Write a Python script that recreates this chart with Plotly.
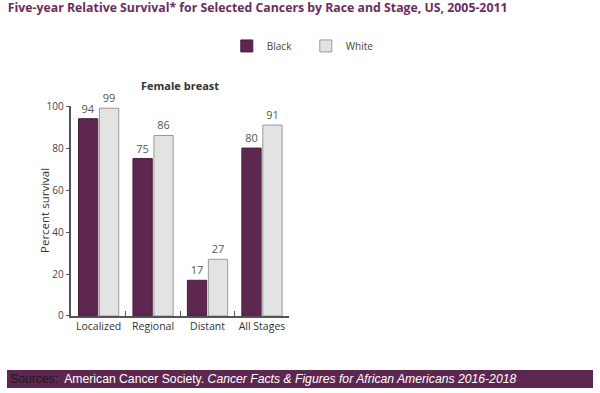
import plotly.graph_objects as go

stages = ["Localized", "Regional", "Distant", "All Stages"]
black_vals = [94, 75, 17, 80]
white_vals = [99, 86, 27, 91]
y_ticks = [0, 20, 40, 60, 80, 100]

title_text = "Five-year Relative Survival* for Selected Cancers by Race and Stage, US, 2005-2011"
panel_title = "Female breast"
y_title = "Percent survival"
source_text = ("<span style='color:#1a1a1a'>Sources:</span>  American Cancer Society. "
               "<i>Cancer Facts &amp; Figures for African Americans 2016-2018</i>")

PURPLE = "#5e2750"
FONT = "Open Sans"

fig = go.Figure()
fig.add_trace(go.Bar(
    name="Black", x=stages, y=black_vals, text=black_vals,
    textposition="outside", cliponaxis=False,
    marker=dict(color=PURPLE, line=dict(color="#4a1d3f", width=1)),
    textfont=dict(size=11, color="#555555", family=FONT),
))
fig.add_trace(go.Bar(
    name="White", x=stages, y=white_vals, text=white_vals,
    textposition="outside", cliponaxis=False,
    marker=dict(color="#e3e3e3", line=dict(color="#9a9a9a", width=1)),
    textfont=dict(size=11, color="#555555", family=FONT),
))

fig.update_layout(
    width=600, height=393,
    margin=dict(l=0, r=0, t=0, b=0, autoexpand=False),
    paper_bgcolor="white", plot_bgcolor="white",
    barmode="group", bargap=0.23, bargroupgap=0.08,
    font=dict(family=FONT, color="#333333"),
    title=dict(text=f"<b>{title_text}</b>", x=0.013, xanchor="left",
               y=1 - 3 / 393, yanchor="top",
               font=dict(size=12.3, color="#6b2d5c", family=FONT)),
    showlegend=True,
    legend=dict(orientation="h", x=0.378, xanchor="left", y=0.92, yanchor="top",
                font=dict(size=10, color="#444444", family=FONT),
                itemwidth=30, tracegroupgap=0,
                entrywidth=34, entrywidthmode="pixels"),
    xaxis=dict(domain=[0.119, 0.482], type="category", tickson="boundaries",
               ticks="inside", ticklen=5, tickcolor="#555555", automargin=False,
               showline=True, linecolor="#555555", linewidth=1.5,
               showgrid=False, range=[-0.5, 3.5], fixedrange=True,
               tickfont=dict(size=10.5, color="#333333", family=FONT)),
    yaxis=dict(domain=[0.196, 0.73], range=[0, 100], tickvals=y_ticks,
               ticks="outside", ticklen=4, tickcolor="#555555", automargin=False,
               showline=True, linecolor="#555555", linewidth=1.5,
               showgrid=False, zeroline=False, fixedrange=True,
               tickfont=dict(size=10, color="#444444", family=FONT)),
)

fig.add_annotation(text=y_title, xref="paper", yref="paper",
                   x=44 / 600, y=1 - 211 / 393, xanchor="center", yanchor="middle",
                   textangle=-90, showarrow=False,
                   font=dict(size=11.5, color="#333333", family=FONT))

fig.add_annotation(text=f"<b>{panel_title}</b>", xref="paper", yref="paper",
                   x=180 / 600, y=1 - 85 / 393, xanchor="center", yanchor="middle",
                   showarrow=False,
                   font=dict(size=11, color="#333333", family=FONT))

fig.add_shape(type="rect", xref="paper", yref="paper",
              x0=7 / 600, x1=593 / 600, y0=1 - 388 / 393, y1=1 - 370 / 393,
              fillcolor=PURPLE, line=dict(width=0), layer="below")
fig.add_annotation(text=source_text, xref="paper", yref="paper",
                   x=8 / 600, xanchor="left", y=1 - 379 / 393, yanchor="middle",
                   showarrow=False,
                   font=dict(size=12.2, color="white", family="Liberation Sans"))

fig.write_html("out.html", config={"displayModeBar": False},
               post_script="document.body.style.margin='0px';document.body.style.overflow='hidden';")
